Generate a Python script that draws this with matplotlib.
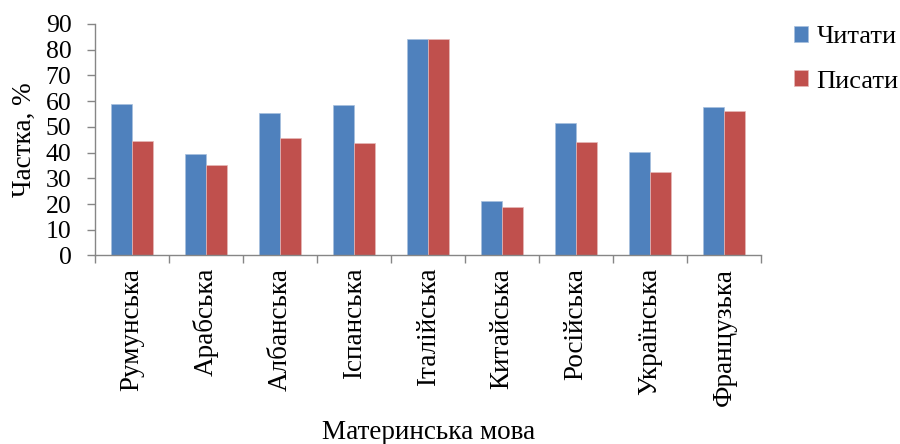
import numpy as np
import matplotlib
matplotlib.use("Agg")
import matplotlib.pyplot as plt
from matplotlib.ticker import FixedLocator

plt.rcParams['font.family'] = ['Liberation Serif', 'DejaVu Serif']

# Data
languages = ['Румунська', 'Арабська', 'Албанська', 'Іспанська', 'Італійська',
             'Китайська', 'Російська', 'Українська', 'Французька']
read_vals = [58.8, 39.4, 55.4, 58.5, 84.3, 21.1, 51.6, 40.2, 57.6]
write_vals = [44.6, 35.1, 45.8, 43.8, 84.3, 18.9, 44.0, 32.5, 56.0]
series_names = ['Читати', 'Писати']

blue = '#4F81BD'
red = '#C0504D'
axis_col = '#868686'

fig = plt.figure(figsize=(9, 4.44), dpi=100)
ax = fig.add_axes([0.1056, 0.4246, 0.74, 0.5214])

x = np.arange(len(languages))
w = 0.28
b1 = ax.bar(x - w / 2, read_vals, w, color=blue, edgecolor='#A7BFDE', linewidth=0.5, label=series_names[0])
b2 = ax.bar(x + w / 2, write_vals, w, color=red, edgecolor='#E6B9B8', linewidth=0.5, label=series_names[1])

ax.set_xlim(-0.5, len(languages) - 0.5)
ax.set_ylim(0, 90)
ax.set_yticks(range(0, 91, 10))

ax.set_xticks(x)
ax.set_xticklabels(languages, rotation=90, fontsize=19.5)
ax.xaxis.set_minor_locator(FixedLocator(np.arange(-0.5, len(languages), 1.0)))
ax.tick_params(axis='x', which='major', length=0, pad=9)
ax.tick_params(axis='x', which='minor', length=6, width=1, color=axis_col, direction='out')
ax.tick_params(axis='y', length=6, width=1, color=axis_col, direction='out', labelsize=18.5, pad=11)

for s in ['top', 'right']:
    ax.spines[s].set_visible(False)
for s in ['left', 'bottom']:
    ax.spines[s].set_color(axis_col)
    ax.spines[s].set_linewidth(1)

ax.set_ylabel('Частка, %', fontsize=19.5, labelpad=6)
fig.text(0.476, 0.027, 'Материнська мова', ha='center', va='center', fontsize=19.5)

leg = fig.legend(handles=[b1, b2], loc='upper left', bbox_to_anchor=(0.882, 0.942),
                 frameon=False, fontsize=19, handlelength=0.55, handleheight=0.55,
                 handletextpad=0.3, labelspacing=0.85, borderpad=0, borderaxespad=0)

plt.savefig('out.png', dpi=100)
